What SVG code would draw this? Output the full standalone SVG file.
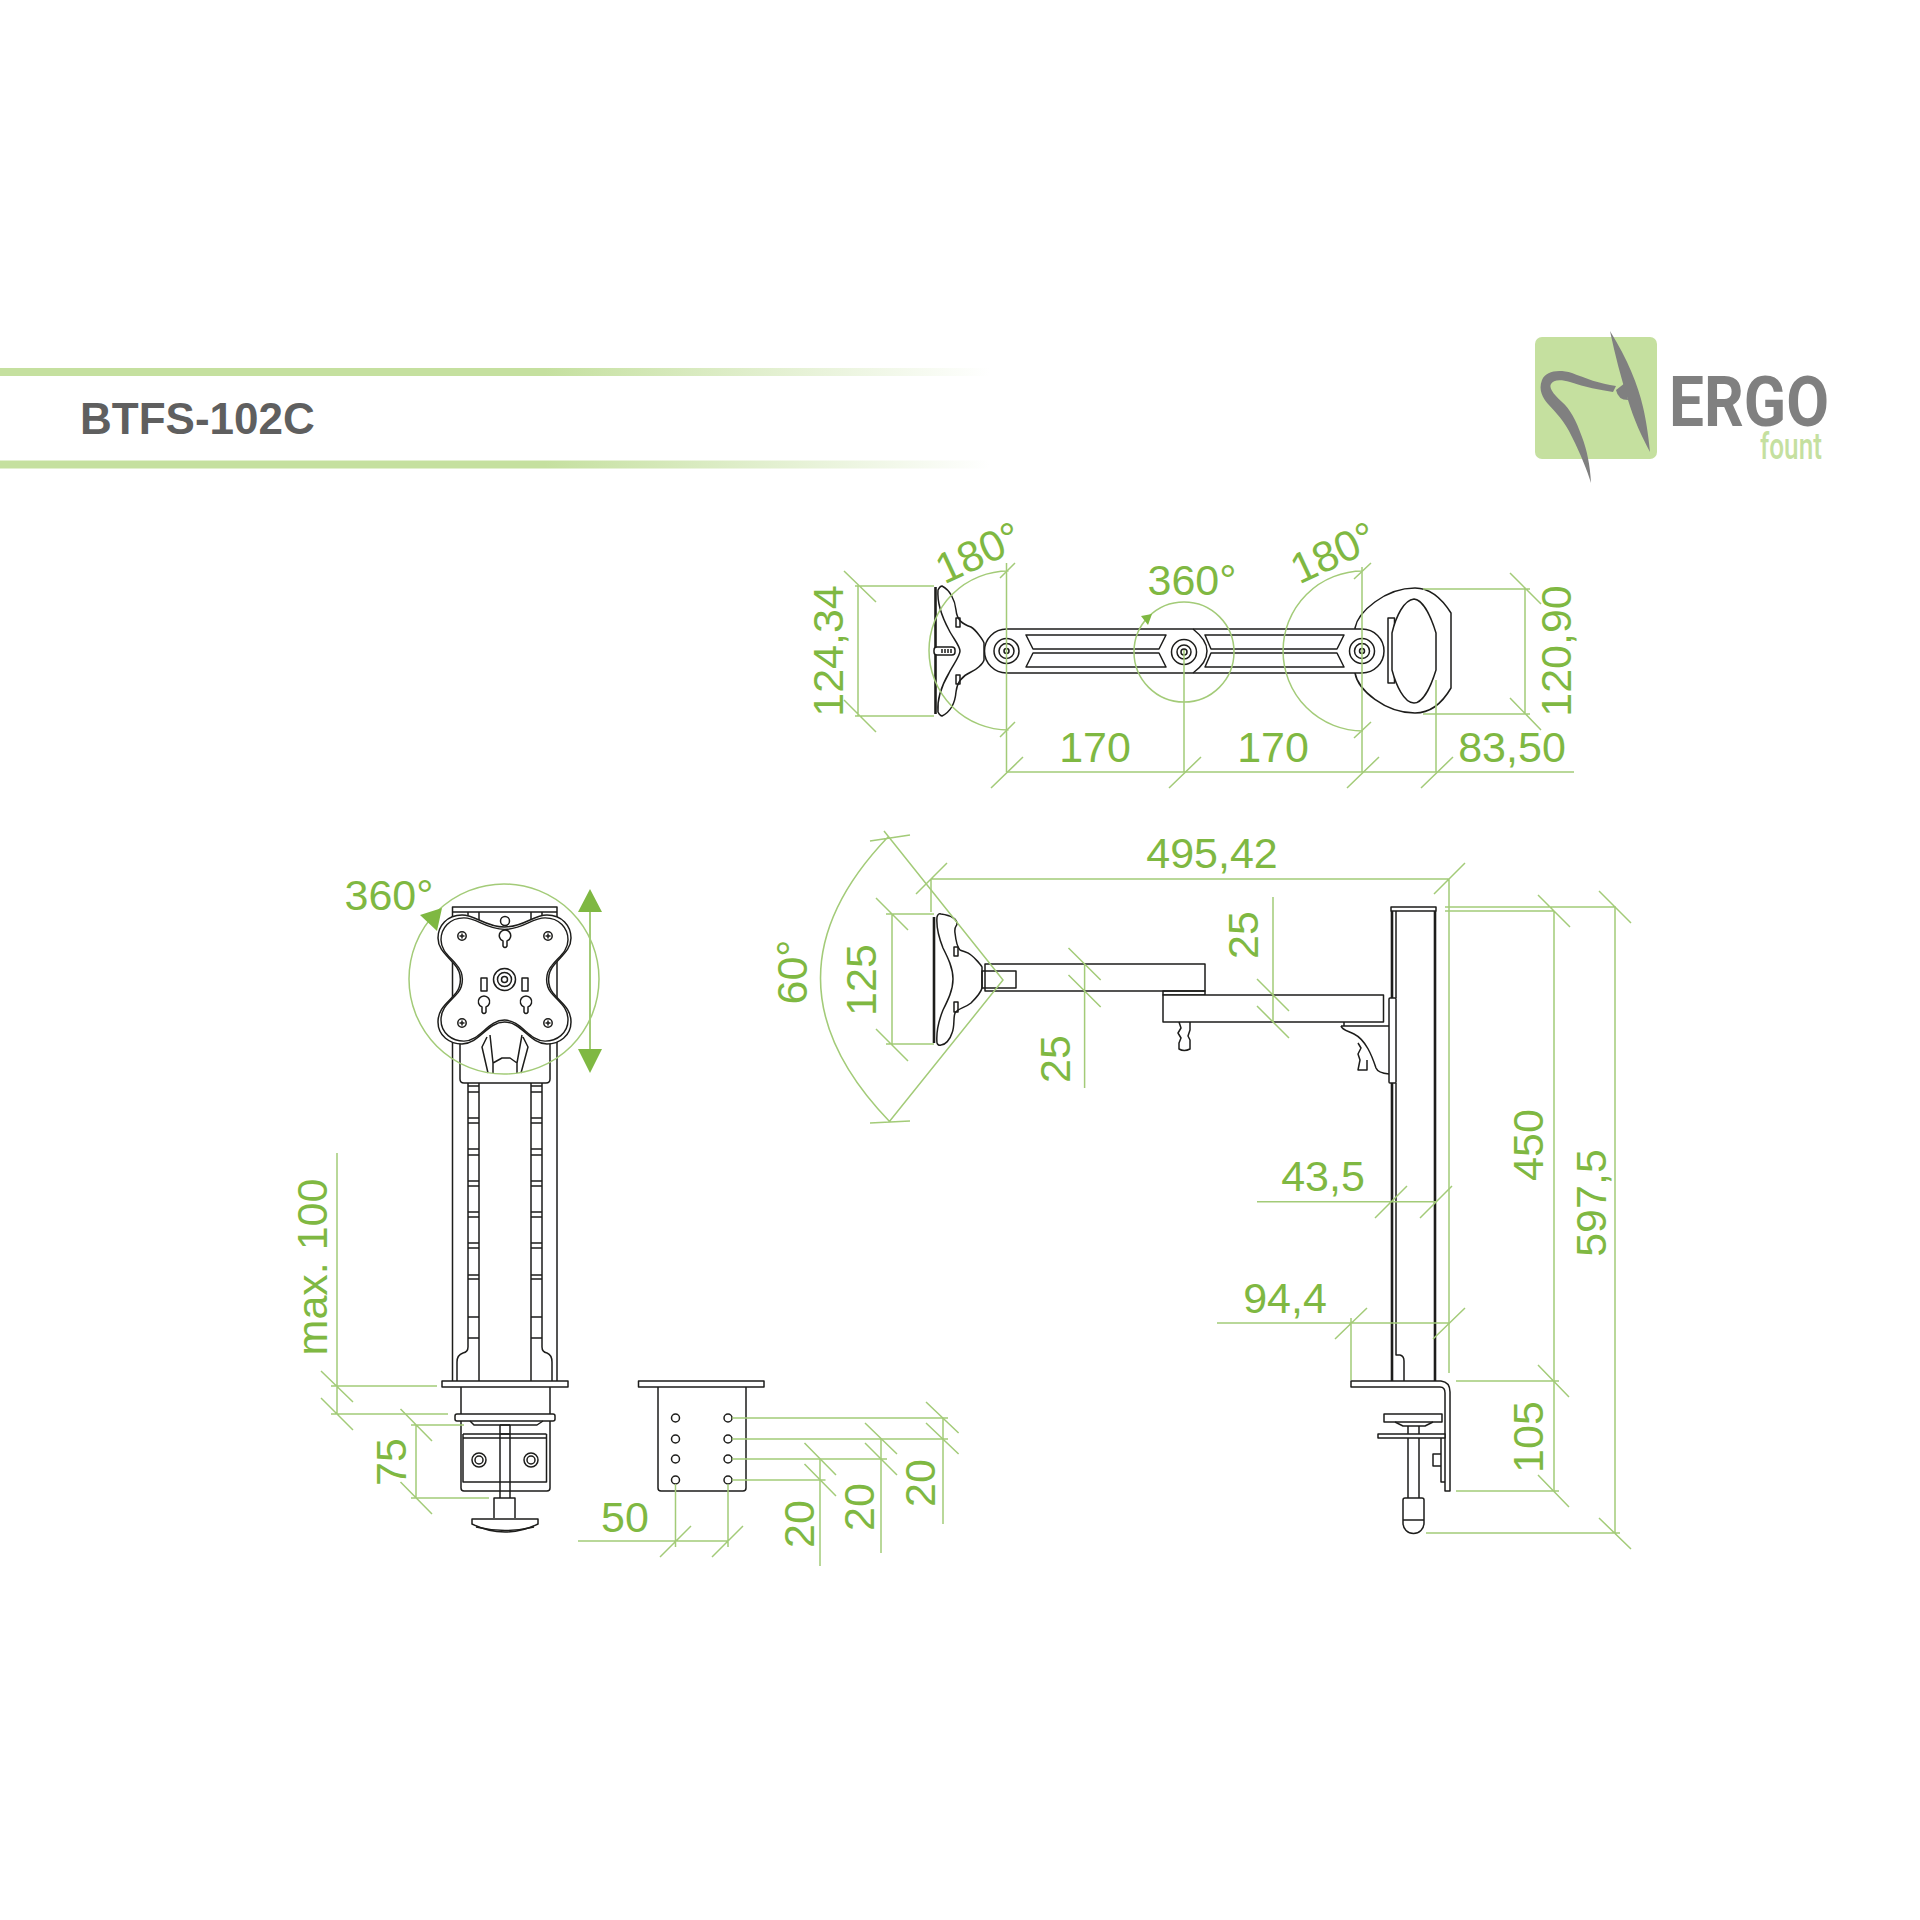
<svg xmlns="http://www.w3.org/2000/svg" xmlns:xlink="http://www.w3.org/1999/xlink" width="1920" height="1920" viewBox="0 0 1920 1920">
<style>
.k{fill:none;stroke:#1d1d1b;stroke-width:1.5;stroke-linejoin:round}
.w{fill:#fff;stroke:#1d1d1b;stroke-width:1.5;stroke-linejoin:round}
.K{fill:none;stroke:#1d1d1b;stroke-width:2.6}
.d{fill:none;stroke:#a3cb78;stroke-width:1.5}
.g{fill:#7fb842;stroke:none}
.t{font-family:"Liberation Sans",Arial,sans-serif;font-size:43px;fill:#7fb842;text-anchor:middle}
</style>
<defs>
<linearGradient id="band" x1="0" x2="1" y1="0" y2="0"><stop offset="0" stop-color="#c5e09f"/><stop offset=".55" stop-color="#c5e09f"/><stop offset="1" stop-color="#fff"/></linearGradient>
<path id="lobe" d="M504.500 927C524 927 533 915 547 915C562 915 571 926 571 938C571 950 561 956 554 965C547 973 547 985 553 993C561 1003 571 1008 571 1022C571 1036 559 1044 547 1044C530 1044 522 1022 504.500 1022C487 1022 479 1044 462 1044C450 1044 438 1036 438 1022C438 1008 448 1003 456 993C462 985 462 973 455 965C448 956 438 950 438 938C438 926 447 915 462 915C476 915 485 927 504.500 927Z"/>
<path id="key" d="M-2 8L-2 3A5.700 5.700 0 1 1 2 3L2 8Q0 11 -2 8Z"/>
<g id="screw"><circle class="k" r="4.200"/><path class="k" d="M-2.500 0H2.500M0 -2.500V2.500"/></g>
</defs>
<rect width="1920" height="1920" fill="#fff"/>

<g id="header">
<rect x="0" y="368" width="990" height="8" fill="url(#band)"/>
<rect x="0" y="460.500" width="990" height="8" fill="url(#band)"/>
<text x="80" y="433.500" font-family="'Liberation Sans',sans-serif" font-weight="700" font-size="44" fill="#5f5f5f">BTFS-102C</text>
</g>

<g id="logo">
<rect x="1535" y="337" width="122" height="122" rx="7" fill="#c5e09f"/>
<path d="M1610 331C1615 355 1621 378 1628 400C1634 420 1642 437 1650 452C1648 432 1646 420 1643 407C1638 385 1628 360 1610 331Z" fill="#808080"/>
<path d="M1616 386C1600 384 1585 378 1572 373C1558 369 1546 371 1542 380C1538 390 1543 398 1548 404C1556 413 1564 420 1572 437C1581 455 1587 470 1591 483C1590 465 1587 450 1582 437C1576 420 1570 409 1562 402C1552 393 1549 387 1551 384C1553 380 1560 379 1570 382C1585 387 1600 390 1613 392Z" fill="#808080"/>
<path d="M1625 383L1628 400Q1618 400 1616 390Z" fill="#808080"/>
<text x="1669" y="426" font-family="Roboto,'Liberation Sans',sans-serif" font-weight="700" font-size="71" fill="#808080" textLength="160" lengthAdjust="spacingAndGlyphs">ERGO</text>
<text x="1760" y="459" font-family="Roboto,'Liberation Sans',sans-serif" font-weight="500" font-size="37" fill="#c5e09f" textLength="62" lengthAdjust="spacingAndGlyphs">fount</text>
</g>

<g id="top-view">
<path class="w" d="M1363 629L1388 627L1388 675L1363 673Z"/>
<path class="w" d="M1355 628C1358 612 1385 588 1415 588C1432 588 1444 602 1451 613L1451 688C1444 700 1432 713 1415 713C1385 713 1358 690 1355 673Z"/>
<path class="w" d="M1388 618H1394.500V683H1388Z"/>
<path class="w" d="M1414 599C1424 600 1432 620 1436 633L1436 670C1432 683 1424 703 1414 703C1404 703 1396 685 1392 670L1392 633C1396 616 1404 600 1414 599Z"/>
<path class="w" d="M1006.500 629L1362 629A22 22 0 0 1 1362 673L1006.500 673A22 22 0 0 1 1006.500 629Z"/>
<path class="k" d="M1193 629Q1207 640 1207 651Q1207 663 1193 673"/>
<path class="k" d="M1026 635H1166L1159 649H1033ZM1033 653H1159L1166 667H1026ZM1205 635H1344L1337 649H1211ZM1211 653H1337L1344 667H1205Z"/>
<circle class="k" cx="1006.500" cy="651" r="12.500"/><circle class="k" cx="1006.500" cy="651" r="7.500"/><circle class="k" cx="1006.500" cy="651" r="2.500"/>
<circle class="k" cx="1184" cy="652" r="12.500"/><circle class="k" cx="1184" cy="652" r="7"/><circle class="k" cx="1184" cy="652" r="3"/>
<circle class="k" cx="1362" cy="651" r="12.500"/><circle class="k" cx="1362" cy="651" r="7.500"/><circle class="k" cx="1362" cy="651" r="2.500"/>
<path class="K" d="M935.500 587V714"/>
<path class="w" d="M938 590Q940 586 942 586C950 590 955 600 956 610C957 620 962 624 971 627C976 630 983 640 984 643V660C983 664 976 670 971 672C962 676 957 682 956 692C955 704 950 712 942 716Q940 716 938 712C937 700 942 685 949 673C953 665 960 656 960 651C960 646 953 638 949 630C942 617 937 603 938 590Z"/>
<path class="k" d="M956 618H960V627H956ZM956 675H960V684H956Z"/>
<rect class="w" x="934" y="647" width="21" height="8" rx="3"/>
<path class="k" d="M942 649V653M945 649V653M948 649V653M951 649V653"/>
</g>

<g id="side-view">
<path class="K" d="M934 917V1043"/>
<path class="w" d="M937 917Q938 913 941 914C948 915 957 917 957 924C957 926 954 926 955 933C956 942 957 947 960 950C965 952 968 952 971 955C975 958 981 965 982 967V988C981 993 975 999 971 1003C965 1008 958 1008 955 1013C953 1018 955 1026 952 1033C950 1040 945 1045 941 1045Q938 1046 937 1043C936 1032 939 1020 943 1010C948 1000 953 990 953 979C953 968 948 958 943 948C939 938 936 928 937 917Z"/>
<path class="k" d="M954 947H958V956H954ZM954 1002H958V1012H954Z"/>
<rect class="k" x="985" y="964" width="220" height="27"/>
<rect class="k" x="982" y="971" width="34" height="17"/>
<rect class="k" x="1163" y="991" width="42" height="4"/>
<rect class="w" x="1163" y="995" width="220.500" height="27"/>
<path class="k" d="M1179 1022L1181 1028L1178 1033L1181 1038L1179 1043V1049Q1184 1052 1190 1049V1040L1188 1036L1190 1030V1022"/>
<path class="k" d="M1344 1022V1026M1341 1026H1389M1341 1026C1342 1030 1348 1031 1354 1034C1366 1040 1372 1056 1376 1068Q1378 1073 1389 1074"/>
<path class="k" d="M1358 1043L1361 1048L1358 1054L1360 1060L1358 1070H1367V1060"/>
<rect class="w" x="1389" y="998" width="7" height="85" rx="1"/>
<rect class="w" x="1391" y="907" width="45" height="4"/>
<path class="K" d="M1392 911V998M1392 1083V1381M1435 911V1381"/>
<path class="k" d="M1396 911V998M1396 1083V1355H1400Q1404 1356 1404 1361V1381"/>
<path class="w" d="M1351 1381H1441Q1450 1382 1450 1392V1491H1445V1393Q1445 1387 1440 1387H1351Z"/>
<path class="w" d="M1384 1414H1442V1422H1384Z"/>
<path class="k" d="M1395 1422L1403 1426H1425L1433 1422"/>
<path class="k" d="M1408 1426V1498M1419 1426V1498"/>
<path class="w" d="M1378 1434H1445V1438H1378Z"/>
<path class="k" d="M1441 1438V1482H1445M1433 1454H1441V1466H1433Z"/>
<path class="w" d="M1403 1500Q1403 1498 1405 1498H1422Q1424 1498 1424 1500V1523A10.500 10.500 0 0 1 1403 1523Z"/>
<path class="k" d="M1403 1520H1424"/>
</g>

<g id="rear-view">
<path class="k" d="M452.500 907H557V912H452.500ZM452.500 912V1381M557 912V1381M468 912V920M479 912V920M531 912V920M542 912V920"/>
<path class="k" d="M460 1043V1079Q460 1083 464 1083H546Q550 1083 550 1079V1043"/>
<path class="k" d="M487 1037L482 1047L488 1073M523 1037L528 1047L521 1073M490 1035L493 1063L502 1058H510L517 1063L522 1035M493 1063V1073M517 1063V1073"/>
<use href="#lobe" class="w"/>
<use href="#lobe" class="k" transform="translate(504.500 979.500) scale(.955) translate(-504.500 -979.500)"/>
<circle class="k" cx="505" cy="921" r="4.500"/>
<use href="#screw" x="462" y="936"/><use href="#screw" x="548" y="936"/><use href="#screw" x="462" y="1023"/><use href="#screw" x="548" y="1023"/>
<use href="#key" class="k" x="505" y="938"/><use href="#key" class="k" x="484" y="1004"/><use href="#key" class="k" x="526" y="1004"/>
<rect class="k" x="481" y="978" width="6" height="13"/><rect class="k" x="522" y="978" width="6" height="13"/>
<circle class="k" cx="504.500" cy="979.500" r="11"/><circle class="k" cx="504.500" cy="979.500" r="7"/><circle class="k" cx="504.500" cy="979.500" r="3"/>
<path class="k" d="M468 1083V1347Q468 1352 463 1353Q457 1355 457 1362V1381M479 1083V1381M531 1083V1381M542 1083V1347Q542 1352 547 1353Q552 1355 552 1362V1381"/>
<path class="k" d="M468 1086H479M468 1092H479M468 1118H479M468 1123H479M468 1149H479M468 1155H479M468 1181H479M468 1186H479M468 1212H479M468 1217H479M468 1243H479M468 1248H479M468 1275H479M468 1279H479M468 1317H479M468 1338H479"/>
<path class="k" d="M531 1086H542M531 1092H542M531 1118H542M531 1123H542M531 1149H542M531 1155H542M531 1181H542M531 1186H542M531 1212H542M531 1217H542M531 1243H542M531 1248H542M531 1275H542M531 1279H542M531 1317H542M531 1338H542"/>
<rect class="w" x="442" y="1381" width="126" height="6"/>
<path class="k" d="M461 1387V1488Q461 1491 464 1491H547Q550 1491 550 1488V1387"/>
<rect class="w" x="455" y="1414" width="100" height="7" rx="2"/>
<path class="k" d="M470 1421L474 1425H537L543 1421"/>
<path class="k" d="M463 1434H546.500M463 1438H546.500M463 1434V1482H546.500V1434"/>
<path class="k" d="M500 1425V1498M510 1425V1498M500 1425H510M500 1434H510"/>
<circle class="k" cx="479" cy="1460" r="7"/><circle class="k" cx="479" cy="1460" r="4"/>
<circle class="k" cx="531" cy="1460" r="7"/><circle class="k" cx="531" cy="1460" r="4"/>
<path class="k" d="M494 1518V1498H515V1518"/>
<path class="w" d="M472 1519H538V1524Q505 1540 472 1524Z"/>
<path class="k" d="M476 1527Q505 1534 534 1527"/>
</g>

<g id="socket">
<rect class="w" x="638.500" y="1381" width="125.500" height="6"/>
<path class="k" d="M658 1387V1488Q658 1491 661 1491H743Q746 1491 746 1488V1387"/>
<circle class="k" cx="675.500" cy="1418" r="4"/><circle class="k" cx="675.500" cy="1439" r="4"/><circle class="k" cx="675.500" cy="1459" r="4"/><circle class="k" cx="675.500" cy="1480" r="4"/>
<circle class="k" cx="728" cy="1418" r="4"/><circle class="k" cx="728" cy="1439" r="4"/><circle class="k" cx="728" cy="1459" r="4"/><circle class="k" cx="728" cy="1480" r="4"/>
</g>

<g id="connectors">
<!-- top view -->
<path class="d" d="M855 586H934M855 716H934M858 586V716M844 571L876 602M844 700L876 732"/>
<path class="d" d="M1423 589H1530M1423 714H1530M1525 589V714M1510 573L1541 604M1510 698L1541 730"/>
<path class="d" d="M1006.500 772H1574M1006.500 563V772M1184 650V772M1362 567V772M1436 680V772"/>
<path class="d" d="M991 788L1023 757M1169 788L1201 757M1347 788L1379 757M1421 788L1453 757"/>
<path class="d" d="M1008.500 571A79 79 0 0 0 1008.500 730M1000 578L1015 563M1000 737L1015 722"/>
<path class="d" d="M1363 571A80 80 0 0 0 1363 731M1354 579L1371 563M1354 738L1371 722"/>
<circle class="d" cx="1184" cy="652" r="50"/>
<path class="g" d="M1141 616L1152 614L1148 625Z"/>
<!-- side view -->
<path class="d" d="M931 879H1449M916 894L947 863M1434 894L1465 863M931 879V912M1449 879V1373"/>
<path class="d" d="M884 831L1003 980L889 1122M888 837Q752 979 890 1122M870 841L910 835M870 1123L910 1121"/>
<path class="d" d="M886 914H934M886 1044H934M892 914V1044M876 898L908 930M876 1029L908 1061"/>
<path class="d" d="M1084.600 964V1088M1068.500 948L1100.700 980M1068.500 975L1100.700 1007"/>
<path class="d" d="M1273 897V1022M1257 979L1289 1011M1257 1006L1289 1038"/>
<path class="d" d="M1257 1201.700H1437M1375 1218L1407 1186M1420 1218L1452 1186"/>
<path class="d" d="M1217 1323H1449M1335 1339L1367 1308M1433 1339L1465 1308M1351 1318V1380"/>
<path class="d" d="M1445 907H1616M1445 911H1554M1554 911V1491M1538 895L1570 927M1599 891L1631 923"/>
<path class="d" d="M1456 1381H1559M1456 1491H1559M1538 1365L1569 1397M1538 1475L1569 1507"/>
<path class="d" d="M1615 907V1533M1426 1533H1620M1599 1518L1631 1549"/>
<!-- rear view -->
<circle class="d" cx="504" cy="979" r="95"/>
<path class="d" d="M590 905V1055" style="stroke-width:2"/>
<path class="g" d="M590 889L602 912H578ZM590 1073L602 1049H578ZM420 915L442 908L437 931Z"/>
<path class="d" d="M337 1153V1414M331 1386H437M331 1414H448M321 1371L353 1402M321 1398L353 1430"/>
<path class="d" d="M416 1425V1498M411 1425H464M411 1498H489M400.500 1409L432 1441M400.500 1482L432 1514"/>
<!-- socket -->
<path class="d" d="M732 1418H948M732 1439H948M732 1459H887M732 1480H825.500"/>
<path class="d" d="M943 1418V1524M881 1439V1553M820 1459V1566"/>
<path class="d" d="M926 1402L958.600 1433M926 1423L958.600 1454M865 1423L897 1454M865 1443L897 1475M804.500 1443L836 1475M804.500 1464L836 1496"/>
<path class="d" d="M578 1541H728M675.500 1484V1547M728 1484V1547M660 1557L691 1526M712 1557L743 1526"/>
</g>

<g id="labels">
<text class="t" transform="rotate(-90 843 651)" x="843" y="651">124,34</text>
<text class="t" transform="rotate(-90 1571 651)" x="1571" y="651">120,90</text>
<text class="t" transform="rotate(-25 984.500 566)" x="984.500" y="566">180°</text>
<text class="t" transform="rotate(-25 1339.500 566)" x="1339.500" y="566">180°</text>
<text class="t" x="1192" y="595">360°</text>
<text class="t" x="1095" y="762">170</text>
<text class="t" x="1273" y="762">170</text>
<text class="t" x="1512" y="762">83,50</text>
<text class="t" x="1212" y="868">495,42</text>
<text class="t" transform="rotate(-90 807 972)" x="807" y="972">60°</text>
<text class="t" transform="rotate(-90 876 980)" x="876" y="980">125</text>
<text class="t" transform="rotate(-90 1070 1059)" x="1070" y="1059">25</text>
<text class="t" transform="rotate(-90 1258 935)" x="1258" y="935">25</text>
<text class="t" x="1323" y="1191">43,5</text>
<text class="t" x="1285" y="1313">94,4</text>
<text class="t" transform="rotate(-90 1543 1145)" x="1543" y="1145">450</text>
<text class="t" transform="rotate(-90 1606 1203)" x="1606" y="1203">597,5</text>
<text class="t" transform="rotate(-90 1543 1437)" x="1543" y="1437">105</text>
<text class="t" x="389" y="910">360°</text>
<text class="t" transform="rotate(-90 327 1267)" x="327" y="1267">max. 100</text>
<text class="t" transform="rotate(-90 406 1462)" x="406" y="1462">75</text>
<text class="t" x="625" y="1532">50</text>
<text class="t" transform="rotate(-90 935 1483)" x="935" y="1483">20</text>
<text class="t" transform="rotate(-90 874 1507)" x="874" y="1507">20</text>
<text class="t" transform="rotate(-90 813.500 1524)" x="813.500" y="1524">20</text>
</g>
</svg>
